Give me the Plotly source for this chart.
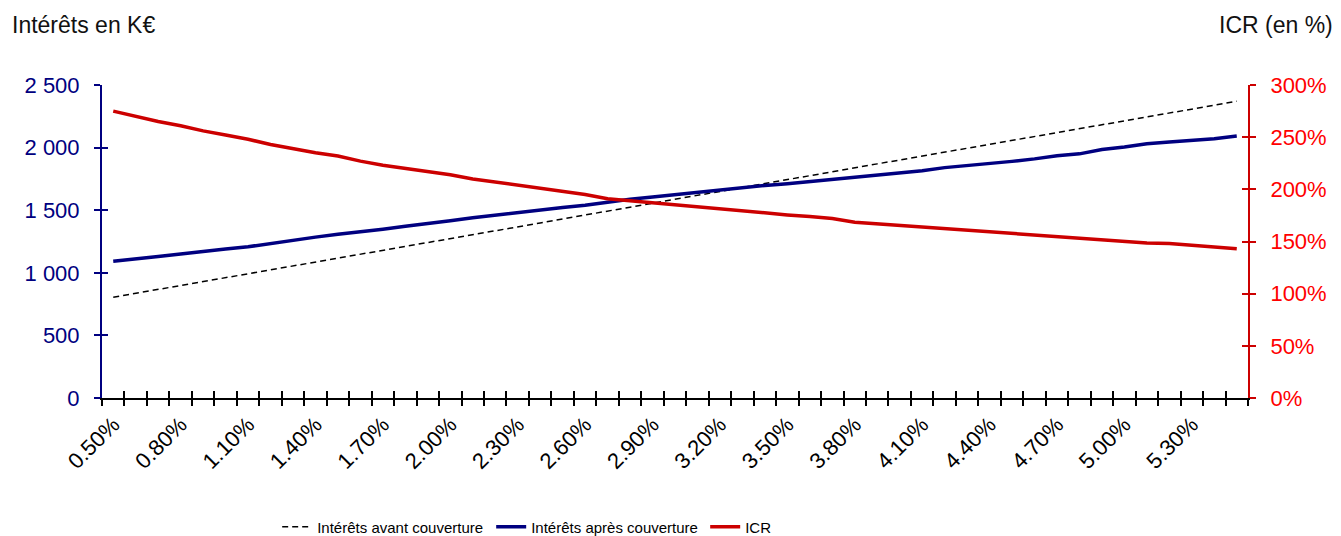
import plotly.graph_objects as go

taux = ["0.50%", "0.60%", "0.70%", "0.80%", "0.90%", "1.00%", "1.10%", "1.20%", "1.30%", "1.40%",
        "1.50%", "1.60%", "1.70%", "1.80%", "1.90%", "2.00%", "2.10%", "2.20%", "2.30%", "2.40%",
        "2.50%", "2.60%", "2.70%", "2.80%", "2.90%", "3.00%", "3.10%", "3.20%", "3.30%", "3.40%",
        "3.50%", "3.60%", "3.70%", "3.80%", "3.90%", "4.00%", "4.10%", "4.20%", "4.30%", "4.40%",
        "4.50%", "4.60%", "4.70%", "4.80%", "4.90%", "5.00%", "5.10%", "5.20%", "5.30%", "5.40%",
        "5.50%"]

interets_avant = [805, 836, 866, 897, 929, 960, 990, 1022, 1053, 1085,
                  1116, 1147, 1179, 1210, 1241, 1272, 1303, 1335, 1366, 1398,
                  1430, 1461, 1493, 1524, 1555, 1587, 1618, 1649, 1682, 1714,
                  1745, 1777, 1808, 1839, 1870, 1901, 1932, 1963, 1994, 2025,
                  2057, 2088, 2119, 2150, 2182, 2213, 2245, 2276, 2308, 2339,
                  2370]

interets_apres = [1092, 1108, 1130, 1150, 1172, 1190, 1208, 1235, 1262, 1285,
                  1308, 1325, 1348, 1372, 1392, 1415, 1440, 1462, 1478, 1500,
                  1522, 1540, 1565, 1588, 1605, 1625, 1645, 1660, 1682, 1698,
                  1712, 1730, 1745, 1760, 1780, 1800, 1815, 1840, 1855, 1870,
                  1890, 1910, 1935, 1950, 1985, 2005, 2030, 2045, 2055, 2070,
                  2092]

icr = [275, 270, 265, 261, 256, 252, 248, 243, 239, 235,
       232, 227, 223, 220, 217, 214, 210, 207, 204, 201,
       198, 195, 191, 189, 187, 185, 183, 181, 179, 177,
       175.5, 174, 172, 168.5, 167, 165.5, 164, 162.5, 161, 159.5,
       158, 156, 154.5, 153, 151.5, 150, 148.5, 148, 146.5, 145,
       143]

labels_x = taux[::3]
ticks_gauche = [0, 500, 1000, 1500, 2000, 2500]
ticks_droite = [0, 50, 100, 150, 200, 250, 300]
labels_droite = ["0%", "50%", "100%", "150%", "200%", "250%", "300%"]

NAVY = "#000080"
RED_LINE = "#CC0000"
RED_TXT = "#FF0000"
FONT = "Liberation Sans, Arial, sans-serif"

fig = go.Figure()
fig.add_trace(go.Scatter(x=taux, y=interets_avant, mode="lines", name="Intérêts avant couverture",
                         line=dict(color="black", width=1.5, dash="6px,4px")))
fig.add_trace(go.Scatter(x=taux, y=interets_apres, mode="lines", name="Intérêts après couverture",
                         line=dict(color=NAVY, width=3.5)))
fig.add_trace(go.Scatter(x=taux, y=icr, mode="lines", name="ICR", yaxis="y2",
                         line=dict(color=RED_LINE, width=3.5)))
# empty helper traces so that the cross-tick overlay axes are drawn
fig.add_trace(go.Scatter(x=[None], y=[None], xaxis="x2", yaxis="y3", showlegend=False,
                         hoverinfo="skip", mode="lines"))
fig.add_trace(go.Scatter(x=[None], y=[None], xaxis="x3", yaxis="y4", showlegend=False,
                         hoverinfo="skip", mode="lines"))

xr = [-0.5, len(taux) - 0.5]
common_off = dict(showgrid=False, zeroline=False, showticklabels=False, showline=False)

fig.update_layout(
    width=1341, height=536,
    margin=dict(l=102, r=93, t=85, b=138, autoexpand=False),
    paper_bgcolor="white", plot_bgcolor="white",
    font=dict(family=FONT, color="black"),
    separators=". ",
    showlegend=True,
    xaxis=dict(type="category", categoryorder="array", categoryarray=taux, range=xr,
               tickmode="array", tickvals=labels_x, ticktext=labels_x, tickangle=-45,
               ticks="", showline=True, linecolor="black", linewidth=2,
               showgrid=False, zeroline=False, tickfont=dict(size=22, color="black"),
               ticklabelstandoff=3),
    xaxis2=dict(overlaying="x", anchor="y", side="bottom", range=xr, tickmode="linear",
                tick0=-0.5, dtick=1, ticks="outside", ticklen=7, tickwidth=1.5, tickcolor="black",
                **common_off),
    xaxis3=dict(overlaying="x", anchor="y", side="bottom", range=xr, tickmode="linear",
                tick0=-0.5, dtick=1, ticks="inside", ticklen=7, tickwidth=1.5, tickcolor="black",
                **common_off),
    yaxis=dict(range=[0, 2500], tickmode="array", tickvals=ticks_gauche, tickformat=",",
               ticks="outside", ticklen=6, tickwidth=1.5, tickcolor=NAVY,
               showline=True, linecolor=NAVY, linewidth=2, showgrid=False, zeroline=False,
               tickfont=dict(size=22, color=NAVY), ticklabelstandoff=10),
    yaxis3=dict(overlaying="y", anchor="x", side="left", range=[0, 2500], tickmode="array",
                tickvals=ticks_gauche, ticks="inside", ticklen=6, tickwidth=1.5, tickcolor=NAVY,
                **common_off),
    yaxis2=dict(overlaying="y", anchor="x", side="right", range=[0, 300], tickmode="array",
                tickvals=ticks_droite, ticktext=labels_droite, ticks="outside", ticklen=6,
                tickwidth=1.5, tickcolor=RED_LINE, showline=True, linecolor=RED_LINE, linewidth=2,
                showgrid=False, zeroline=False, tickfont=dict(size=22, color=RED_TXT),
                ticklabelstandoff=10),
    yaxis4=dict(overlaying="y", anchor="x", side="right", range=[0, 300], tickmode="array",
                tickvals=ticks_droite, ticks="inside", ticklen=6, tickwidth=1.5, tickcolor=RED_LINE,
                **common_off),
    legend=dict(orientation="h", xref="container", yref="paper", x=0.2067, y=-129 / 313,
                xanchor="left", yanchor="middle", entrywidth=169, entrywidthmode="pixels",
                font=dict(size=15, family="Liberation Sans Narrow, Liberation Sans, Arial", color="black"),
                bgcolor="rgba(0,0,0,0)", traceorder="normal"),
    annotations=[
        dict(text="Intérêts en K€", xref="paper", yref="paper", x=-92 / 1146, y=1 + 60 / 313,
             xanchor="left", yanchor="middle", showarrow=False, font=dict(size=23, color="#111")),
        dict(text="ICR (en %)", xref="paper", yref="paper", x=1 + 87 / 1146, y=1 + 60 / 313,
             xanchor="right", yanchor="middle", showarrow=False, font=dict(size=23, color="#111")),
    ],
)

fig.write_html("out.html")
